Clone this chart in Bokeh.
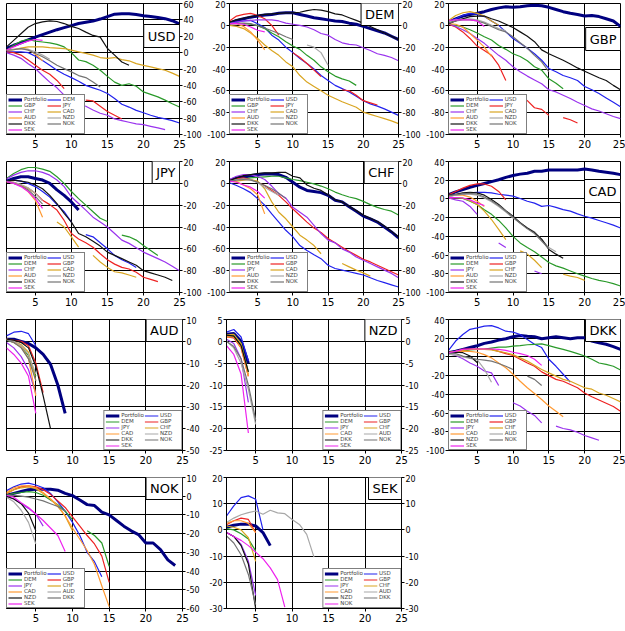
import math
from bokeh.plotting import figure
from bokeh.models import Range1d, FixedTicker, LinearAxis, Label, Legend, LegendItem
from bokeh.layouts import column, row
from bokeh.embed import file_html
from bokeh.resources import INLINE

N = None
ALL = ["USD", "DEM", "GBP", "JPY", "CHF", "CAD", "AUD", "NZD", "DKK", "NOK", "SEK"]
x_ticks = [5, 10, 15, 20, 25]

# ---------------- USD panel ----------------
usd_portfolio = [5, 9, 12, 15.5, 19, 22, 25, 28, 30.5, 33, 35.5, 37, 38.5, 41, 44, 47, 47.5, 47.5, 46.5, 45, 44, 43, 41.5, 39, 35]
usd_dem = [1, 1, 1, 0, -4.5, -9.5, -15.5, -21.5, -26.5, -30.5, -35, -40, -43, -46, -50, -56, -63, -66.5, -70.5, -73.5, -76.5, -79, -81, -83, -86]
usd_gbp = [3, 9, 14, 16, 14, 13, 12, 10, 7, 0, -9, -11, -15.5, -21.5, -29, -36, -40, -38, -41, -48, -51, -54, -58, -62.5, -66.5]
usd_jpy = [1, 0, -3, -9, -15.5, -21.5, -26.5, -34, -44, N, N, -58, -59, -65.5, -72, -76.5, -81]
usd_chf = [0, -3, -7, -13.5, -19.5, -28, -36, -43, -52, -58, -63, -65.5, -70, -74, -76.5, -81, -83, -85, -87, -88, -90, -92, -94]
usd_cad = [3, 3.5, 5.5, 7, 7, 7, 6, 5.5, 5, 3, 1, -1, -3, -6, -7, -6, -8.5, -10, -13.5, -15.5, -17.5, -19.5, -21.5, -25, -29]
usd_aud = [3, 4, 5, 4, -2, -10]
usd_nzd = [3, 4, 5, 4, 1, -3, -8]
usd_dkk = [7, 15, 23, 31, 35.5, 37.5, 38.8, 38, 35.5, 32, 29.5, 25, 21, 19, 5, -3, -11.5, -15.5]
usd_nok = [3, 3.5, 5, 3, -1, -5, -10, -15.5, -19.5, -23.5, -28, -30.5, -36, -42]
usd_sek = [3, 7, 11, 14, 16, 15]

# ---------------- DEM panel ----------------
dem_portfolio = [2, 4.5, 6, 7.5, 8.5, 9.5, 10, 11, 11.5, 11.5, 10, 8.5, 7, 6, 5, 4, 3.5, 2, 1, -1, -3, -5, -7, -10, -13]
dem_usd = [2, 3, 4, 4.5, 1.5, -2, -9, -13.5, -20, -25, -30.5, -35, -40, -46, -50.5, -55, -58, -61, -65, -69, -72, -74, -76.5, -79.5, -82.5]
dem_gbp = [2, 2, 1.5, 1, 0, -3, -7, -10.5, -15, -19, -22, -27.5, -32, -38, -42.5, -46.5, -49, -51, -55]
dem_jpy = [4, 8.5, 10, 11, 9, 6, 0, -9, N, -25, -29.5, -35, -41, -47, N, N, -59, -60, -64, -69, -71, -73]
dem_chf = [1.5, 3, 4, 4.5, 5, 5, 5, 4, 2, 1, 0, -1.5, -4, -7.5, -9, -13, -16, -17.5, -18, -20.5, -23, -26, -27.5, -29.5, -32.5]
dem_cad = [0, -1, -3, -7, -12, -18, -23, -27.5, -33.5, -38, -46, -52, -56, -60, -64, -67, -70, -72.5, -75, -79.5, -81.5, -83.5, -85.5, -87.5, -90]
dem_aud = [1.5, 1.5, -1, -6, -13.5, -22.5]
dem_nzd = [N, N, N, N, N, N, N, N, N, N, N, -18, -20, -25, -36.5]
dem_dkk = [3, 5, 6.5, 8, 9, 10, 10.5, 11, 11.5, 11.5, 12, 13.5, 14.5, 14, 12.5, 10.5, 9.5, 7, 4.5, 2, -1, -4, -7, -10, -13]
dem_nok = [1, 1.5, 2, 1.5, -0.5, -2.5, -5, -7.5, -10.5, -13]
dem_sek = [1.5, 1.5, 1, -1.5, -4.5, -6]

# ---------------- GBP panel ----------------
gbp_portfolio = [3, 6, 8.5, 10, 11, 12.5, 14.5, 16, 17, 16.5, 17, 18, 18.5, 18, 16.5, 14.5, 12.5, 11, 10, 8.5, 9, 8, 6, 4, -1]
gbp_usd = [2, 6, 9, 11, 10, 8, 4, 0, -6, -12, -16.5, -21, -26, -32, -39.5, -42.5, -46, -48, -50.5, -56, -59, -62.5, -66.5, -70.5, -74.5]
gbp_dem = [1, 0, -1.5, -4, -7, -10.5, -13.5, -18.5, -22, -26, -28.5, -32.5, -38, -41, -49, -53, -58]
gbp_jpy = [1, -1.5, -6, -12, -19, -23, -27.5, -36.5, -50.5, N, -64, -69, -75.5, -77, -82.5, N, -84.5, -86.5, -89.5]
gbp_chf = [1.5, -1, -4, -7.5, -12, -16.5, -22, -27.5, -32, -38, -42.5, -46.5, -50, -53.5, -59, -61, -64, -67, -70.5, -73.5, -76.5, -78.5, -81, -83.5, -85.5]
gbp_cad = [4.5, 9, 11.5, 12.5, 11, 8.5, 4, 0]
gbp_aud = [1.5, 1, -1.5, -7.5, -13.5, -20, -28.5]
gbp_nzd = [3, 5, 6, 6, 5, 3, 0, -3, -5]
gbp_dkk = [1.5, 4, 6, 8, 8.5, 8.5, 6, 4, 1, -2, -6, -10, -15, -22.5, -26, -29, -32, -35.5, -39, -42, -45, -48, -50.5, -55, -59]
gbp_nok = [2, 4, 5, 5, 4, 2, -1, -4, -6, -10.5, -16, -21, -27.5, -33.5, -42.5]
gbp_sek = [4.5, 5, 5, 5, 4, -1]

# ---------------- JPY panel ----------------
jpy_portfolio = [2, 4.5, 6, 6, 4.5, 3, 0, -6, -11, -17, -24.5]
jpy_usd = [2, 3, 2, 0, -3, -7.5, -12.5, -19.5, -26, -35.5, N, -47, -49, -54.5, -60, -66, -70, -73, -77]
jpy_dem = [4.5, 9, 12.5, 14.5, 14.5, 13, 11, 6, 0, -7.5, -14, -20, -26, -32, -35, N, -47.5, -49, -52, -57, -61.5, -66]
jpy_gbp = [1.5, 1, -1.5, -4.5, -9, -15.5, -19.5, -24.5, -34, -46, -51, -54.5, -58.5, -64.5, -70, -74, -77, -78.5, -81.5, -86, -88, -90]
jpy_chf = [4, 7.5, 10, 11.5, 11.5, 10, 7.5, 3, -3, -12.5, -18.5, -24.5, -31, -35.5, -40, -46, -52, -55, -59, -63, -66, -69, -72, -76, -80]
jpy_cad = [1.5, 0.5, -1.5, -4.5, -9, N, N, -35.5, -40, -49, -58.5, N, -66, -72, -77, -81, -82, -84, -86]
jpy_aud = [1.5, 0, -2, -7.5, -15.5, -31]
jpy_nzd = [2, 1, -1, -4, -9, -16]
jpy_dkk = [2, 3, 2, 1, -1.5, -5, -11, -18.5, -27.5, -35.5, -46, -49, -53, -57.5, -63, -66, -69, -72, -75, -80, -82, -84, -86, -89]
jpy_nok = [1.5, 0, -2.5, -6, -12, -19]
jpy_sek = [1.5, 0, -3, -7.5, -14, -23]

# ---------------- CHF panel ----------------
chf_portfolio = [2.5, 5, 5.5, 7, 8, 8.5, 8.5, 8, 5.5, 1, -3.5, -6.5, -7.5, -8.5, -11, -15.5, -17, -21.5, -25.5, -30, -32.5, -35.5, -40, -44.5, -50]
chf_usd = [0.5, -2, -5, -8.5, -14, -20, -28, -35.5, -43, -49, -57, -61.5, -65.5, -69, -75, -78, -79.5, -81, -82.5, -84, -86.5, -89, -91, -93, -95]
chf_dem = [2.5, 3.5, 4, 5, 5.5, 6, 6.5, 6.5, 5, 3.5, 2.5, 1, -0.5, -2.5, -5, -8, -10.5, -12.5, -14, -16.5, -19.5, -22, -24, -25.5, -29]
chf_gbp = [2.5, 4, 5, 3.5, 1, -2, -6.5, -11, -17, -23.5, -29.5, -35.5, -41, -45, -50.5, -54.5, -58.5, -62.5, -66, -69.5, -72, -75, -78, -81, -84]
chf_jpy = [3.5, 6.5, 8, 8, 6.5, 3.5, -2.5, -9.5, -13.5, -22, -26.5, -31, -38.5, -46, -52, -54.5, -60, -63, -67.5, -70.5, -73.5, -76.5, -79.5, -82.5, -86.5]
chf_cad = [1.5, 2, 3, 3.5, 2, -5, -17, -26.5, -32.5, -40, -47.5, -52, -57, -64.5, N, N, -73.5, -76.5, -79.5, -82, -85]
chf_aud = [2, 1.5, -1.5, -5, -10.5, -28]
chf_nzd = [2.5, 3.5, 4, 3.5, 0.5, -3.5, -7.5, -11]
chf_dkk = [2.5, 5, 7, 8, 9, 9.5, 9.5, 10, 10, 6.5, 5, -1.5, -4.5, -6.5, -10.5, -15, -17, -21, -25, -29, -32, -35, -39, -44, -49]
chf_nok = [2, 3, 3.5, 3, 1, -2, -5, -9, -14]
chf_sek = [2, 1, -1.5, -3.5, -7.5, -13.5]

# ---------------- CAD panel ----------------
cad_portfolio = [4.5, 7.5, 10, 12.5, 14.5, 16.5, 18.5, 20.5, 23, 25, 26.5, 27.5, 29.5, 29.5, 31, 31, 31, 31, 31, 32, 31, 29.5, 28.5, 27.5, 26]
cad_usd = [3, 4, 5, 6.5, 7, 7, 6.5, 5, 4, 3, 0.5, -2.5, -4.5, -8, -7, -9, -11.5, -13, -16, -18.5, -20.5, -23, -25.5, -28, -31]
cad_dem = [1.5, 1, 0.5, -2.5, -6, -11.5, -16.5, -23, -31, -40, -47, -52, -56.5, -62, -68, -71.5, -74, -77, -80, -82.5, -85, -87, -88.5, -90.5, -93]
cad_gbp = [4.5, 8, 11.5, 14.5, 16, 16, 13.5, 8, -1]
cad_jpy = [1, -1, -2.5, -8, -16.5, N, N, -47, -52, N, N, N, -77, -80]
cad_chf = [1.5, 1.5, 1, -2, -6, -13, -22, -32.5, -43.5, N, -55.5, -59, -65.5, -73.5, N, N, -80.5, -82.5, -84, -87]
cad_aud = [3, 4, 4, 2, -2.5, -8]
cad_nzd = [3, 4, 5, 5, 4, 1, -3, -8, -14, -20.5, -25.5, -31, -35, -43.5, -52, -56.5]
cad_dkk = [4, 5, 6.5, 7, 6.5, 4, -0.5, -6, -12.5, -18.5, -25.5, -31, -36, -43, -54, -59, -63.5]
cad_nok = [3.5, 4.5, 5.5, 6, 5, 2, -2, -7, -13, -19.5, -26, -32, -37, -45, -53]
cad_sek = [1.5, 1.5, 1, -1, -4.5, -7]

# ---------------- AUD panel ----------------
aud_portfolio = [1, 1, 0, -1, -3, -6, -10.5, -20, -33]
aud_usd = [2.5, 4.2, 4.6, 3.5, -2]
aud_dem = [0.5, -0.5, -2.5, -6.5, -16]
aud_gbp = [1, 0.5, 0, -2, -10, -23.5]
aud_jpy = [-0.5, -3, -7, -13, -24]
aud_chf = [1, 0, -1.5, -5, -18]
aud_cad = [1, -0.5, -2.5, -8, -25]
aud_nzd = [1, 0, -2, -6, -15]
aud_dkk = [1, 0.5, -0.5, -3, -11.5, -25, -40]
aud_nok = [0.5, -0.5, -3, -8, -18]
aud_sek = [-3, -6, -10, -16, -33]

# ---------------- NZD panel ----------------
nzd_portfolio = [1.6, 1.8, 0, -5]
nzd_usd = [2.1, 2.7, 1, -4.5]
nzd_dem = [1.2, 1.4, -0.5, -7]
nzd_gbp = [1, 0.8, -1.5, -8]
nzd_jpy = [0.5, -0.5, -4, -14]
nzd_chf = [1.5, 1.6, -0.5, -7.5]
nzd_cad = [1, 1, -1.5, -8]
nzd_aud = [0, -1.5, -5, -11, -19]
nzd_dkk = [1.4, 1.2, -1, -7]
nzd_nok = [0, -1.2, -4, -10, -18]
nzd_sek = [-1, -3, -7.5, -21]

# ---------------- DKK panel ----------------
dkk_portfolio = [4.5, 6, 8, 10, 12, 14.5, 16, 18, 19.5, 21.5, 23, 22, 21.5, 19.5, 20.5, 21.5, 20.5, 19.5, 20.5, 20.5, 17, 15, 13.5, 11, 8]
dkk_usd = [7, 17, 24, 29.5, 31, 33, 33.5, 31, 27.5, 26.5, 24, 18.5, 13.5, 10, -2.5, -10, -18.5, -27]
dkk_dem = [3.5, 5, 6, 7.5, 8, 8.5, 9.5, 10.5, 10.5, 11.5, 12, 13, 13.5, 14, 12, 10, 8, 6, 3.5, 1, -2.5, -6.5, -8, -10, -14]
dkk_gbp = [4.5, 6, 8, 8.5, 8.5, 8.5, 8, 6, 3.5, 1.5, -2.5, -6.5, -10, -16, -20, -24, -26, -29.5, -33, -38.5, -42.5, -46, -49.5, -53, -58]
dkk_jpy = [3.5, 1.5, -2, -6.5, -10, -15, -17, -30.5, N, -49, -52.5, -58, -62.5, -70.5, N, -74, -76.5, -78, -80.5, -84, -86.5, -89]
dkk_chf = [5, 6, 7, 8, 8, 8, 7.5, 6, 4.5, 2.5, -1, -4.5, -9, -13.5, -17, -20.5, -24, -26, -29.5, -33, -34.5, -38.5, -41, -44.5, -48]
dkk_cad = [4.5, 5, 6, 6, 5, 2.5, -1, -6.5, -11.5, -18.5, -26, -33, -39, -45.5, -52.5, -58, -64]
dkk_aud = [3, 2, 0, -1.5, -3, -13, -27]
dkk_nzd = [4.5, 5, 4.5, 1, -6]
dkk_nok = [4.5, 3.5, 1, -1, -2.5, -3.5, -4.5, -7, -10, -13.5, N, -20.5, -24, -30.5]
dkk_sek = [4.5, 6, 8, 8.5, 8.5, 8.5, 8.5, 8, 7, 5, 3.5, 1.5, -2.5, -9]

# ---------------- NOK panel ----------------
nok_portfolio = [0.5, 1.5, 2.5, 3.5, 3.75, 3.75, 3.75, 3.2, 1.5, 0.3, -2, -4.5, -5, -8.5, -10, -13, -16, -18.5, -20.5, -25, -25, -28.5, -34, -37]
nok_usd = [3, 5, 6.5, 7, 6, 4.5, 1.5, -3, -8, -14, -21, -30, -35, -43]
nok_dem = [0.5, 1.5, 2, 2.5, 2, 0.5, -2, -4.5, -8, -12.5, N, -18.5, -21, -25, -37.5]
nok_gbp = [1.5, 3.5, 5, 5.5, 5, 3.5, 1, -2.5, -6, -11, -16, -21, -25.5, -32, -46]
nok_jpy = [0, -1.5, -4, -6.5, -9.5, -16]
nok_chf = [1.5, 3.5, 4.5, 5, 4, 1.5, -1.5, -5.5, -10.5, -18.5]
nok_cad = [2, 4.5, 5.5, 5.5, 4.5, 2, -1.5, -5, -10.5, -17, -23, -29, -36.5, -48, -59]
nok_aud = [-0.5, -3, -7.5, -14, -25.5]
nok_nzd = [0, -1.5, -4, -9, -18.5]
nok_dkk = [0.5, 0.5, 0, -0.5, -1.5, -2.5, -4, -5.5, -8]
nok_sek = [0.5, -0.5, -3.5, -6, -9.5, -13, -17, -21, -29.5]

# ---------------- SEK panel ----------------
sek_portfolio = [1, 1.8, 2.2, 2.2, 1.5, -1, -6]
sek_usd = [5.3, 9.2, 12.3, 13, 11.7, 0]
sek_dem = [0.5, 0, -1.5, -3.5, -8]
sek_gbp = [2, 3.5, 4.5, 4, -1]
sek_jpy = [-1, -2.5, -5.5, -12, -25]
sek_chf = [1.5, 1, 0, -3, -12]
sek_cad = [2.5, 3.5, 3.5, 2.5, -1]
sek_aud = [2.8, 4.5, 5.8, 6.6, 7.2, 6, 7.5, 6.5, 6.2, 4, 2.1, -1.7, -10.4]
sek_nzd = [-1, -2.5, -6, -13, -30]
sek_dkk = [-2.3, -5, -9.5, -17, -28.5]
sek_nok = [-1, -2.5, -4, -6, -8.5, -11, -14.5, -19, -29.5]

# y-axis ranges and tick steps per panel
y_lo = {"USD": -100, "DEM": -100, "GBP": -100, "JPY": -100, "CHF": -100, "CAD": -100,
        "AUD": -50, "NZD": -25, "DKK": -100, "NOK": -60, "SEK": -30}
y_hi = {"USD": 60, "DEM": 20, "GBP": 20, "JPY": 20, "CHF": 20, "CAD": 40,
        "AUD": 10, "NZD": 5, "DKK": 40, "NOK": 10, "SEK": 20}
y_step = {"USD": 20, "DEM": 20, "GBP": 20, "JPY": 20, "CHF": 20, "CAD": 20,
          "AUD": 10, "NZD": 5, "DKK": 20, "NOK": 10, "SEK": 10}

g = globals()
panel_series = {}
for cur in ALL:
    names = ["Portfolio"] + [c for c in ALL if c != cur]
    panel_series[cur] = [(nm, g[cur.lower() + "_" + nm.lower()]) for nm in names]

# styles
colors = ["#000080", "#2222ee", "#2a9a2a", "#ee2222", "#9a33ee", "#d9a521",
          "#ff9a33", "#a8a8a8", "#111111", "#737373", "#ee22ee"]
title_drop = {"USD": 22, "GBP": 25, "CAD": 19}
legend_right = {"AUD", "NZD", "SEK"}
FONT = "DejaVu Sans"

# per-column geometry: (width, border_left, border_right)
col_geom = [(204, 6, 22), (219, 22, 22), (202, 22, 5)]


def style_axis(ax, size, standoff, tick_out):
    ax.axis_label = None
    ax.major_label_text_font = FONT
    ax.major_label_text_font_size = size
    ax.major_label_text_color = "black"
    ax.major_label_standoff = standoff
    ax.major_tick_out = tick_out
    ax.major_tick_in = 0
    ax.minor_tick_out = 0
    ax.minor_tick_in = 0
    ax.minor_tick_line_color = None
    ax.axis_line_color = "black"


def make_panel(cur, col, last):
    lo, hi = y_lo[cur], y_hi[cur]
    yt = list(range(lo, hi + 1, y_step[cur]))
    w, bl, br = col_geom[col]
    p = figure(width=w, height=154 if last else 158,
               x_range=Range1d(1, 25), y_range=Range1d(lo, hi),
               output_backend="svg", toolbar_location=None,
               x_axis_location=None, y_axis_location=None,
               min_border_top=3, min_border_bottom=20 if last else 24,
               min_border_left=bl, min_border_right=br)
    p.title.visible = False
    xa = LinearAxis(ticker=FixedTicker(ticks=x_ticks))
    style_axis(xa, "10px", 2, 3)
    p.add_layout(xa, "below")
    sides = []
    if col in (1, 2):
        sides.append("left")
    if col in (0, 1):
        sides.append("right")
    for side in sides:
        ya = LinearAxis(ticker=FixedTicker(ticks=yt))
        style_axis(ya, "8px", 1, 3)
        ya.major_label_overrides = {t: str(t) for t in yt}
        p.add_layout(ya, side)
    p.xgrid.grid_line_color = "black"
    p.ygrid.grid_line_color = "black"
    p.xgrid.ticker = FixedTicker(ticks=x_ticks)
    p.ygrid.ticker = FixedTicker(ticks=yt)
    p.outline_line_color = "black"
    p.outline_line_alpha = 1

    items = []
    for i, (nm, vals) in enumerate(panel_series[cur]):
        ys = [math.nan if v is None else v for v in vals]
        xs = list(range(1, len(ys) + 1))
        r = p.line(xs, ys, line_color=colors[i], line_width=3 if i == 0 else 1.2)
        items.append(LegendItem(label=nm, renderers=[r]))
    leg = Legend(items=items, orientation="horizontal", ncols=2,
                 location="bottom_right" if cur in legend_right else "bottom_left",
                 label_text_font=FONT, label_text_font_size="5.5px",
                 label_height=5, glyph_height=5, glyph_width=14,
                 label_standoff=2, spacing=0, padding=1, margin=0,
                 border_line_color="black", border_line_width=1,
                 background_fill_color="white", background_fill_alpha=1)
    p.add_layout(leg)

    lab = Label(x=25, y=hi, text=cur, text_align="right", text_baseline="top",
                x_offset=0, y_offset=1 - title_drop.get(cur, 0),
                text_font=FONT, text_font_size="13px", text_color="black",
                border_line_color="black", border_line_width=1,
                background_fill_color="white", padding=4)
    p.add_layout(lab)
    return p


grid_rows = [["USD", "DEM", "GBP"], ["JPY", "CHF", "CAD"], ["AUD", "NZD", "DKK"], ["NOK", "SEK"]]
rows = []
for ri, names in enumerate(grid_rows):
    rows.append(row(*[make_panel(c, ci, ri == 3) for ci, c in enumerate(names)]))
layout = column(*rows)

open("out.html", "w").write(file_html(layout, INLINE))
